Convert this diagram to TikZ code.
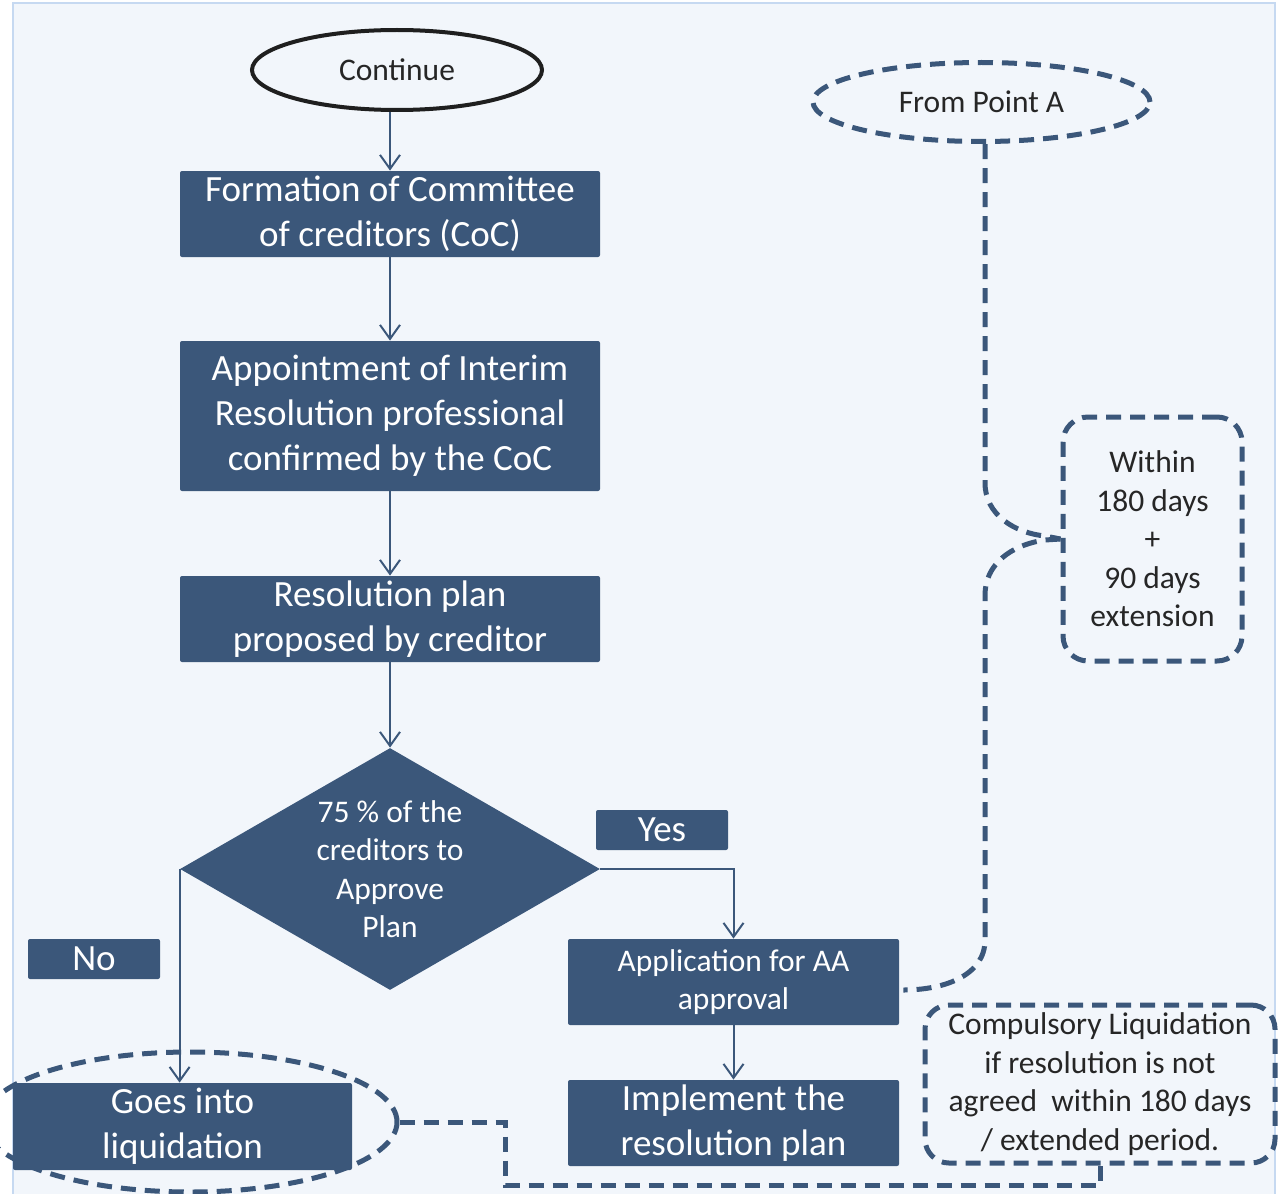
\documentclass[tikz,border=0pt]{standalone}
\usepackage{fontspec}
\setmainfont{Carlito}
\usetikzlibrary{shapes.geometric,arrows.meta,calc}
\definecolor{boxblue}{HTML}{3B577A}
\definecolor{paper}{HTML}{F2F6FB}
\definecolor{frameblue}{HTML}{C6D9F1}
\definecolor{inkgrey}{HTML}{262626}
\begin{document}
\begin{tikzpicture}[x=0.5pt,y=-0.5pt,
    big/.style={font=\fontsize{18.5}{22.5}\selectfont},
    small/.style={font=\fontsize{15.75}{19.25}\selectfont},
    box/.style={rectangle,fill=boxblue,text=white,align=center,inner sep=0pt,rounded corners=1pt},
    tag/.style={box,big,minimum width=66pt,minimum height=20pt},
    dashline/.style={draw=boxblue,line width=2.5pt,dash pattern=on 7.5pt off 4.5pt},
    flow/.style={draw=boxblue,line width=1pt,-{Straight Barb[length=7pt,width=10pt]}}]
  \useasboundingbox (0,0) rectangle (1278,1193);
  \fill[white] (0,0) rectangle (1278,1193);
  \draw[frameblue,fill=paper,line width=1pt] (13,3) rectangle (1275,1230);
  % main column
  \node[ellipse,draw=black!88,line width=2pt,small,text=inkgrey,minimum width=145pt,minimum height=40pt] (cont) at (397,70) {Continue};
  \node[box,big,minimum width=210pt,minimum height=43pt] (coc) at (390,214) {Formation of Committee\\of creditors (CoC)};
  \node[box,big,minimum width=210pt,minimum height=75pt] (irp) at (390,416) {Appointment of Interim\\Resolution professional\\confirmed by the CoC};
  \node[box,big,minimum width=210pt,minimum height=43pt] (plan) at (390,619) {Resolution plan\\proposed by creditor};
  \node[diamond,fill=boxblue,text=white,align=center,small,inner sep=0pt,aspect=1.74,minimum width=210pt,minimum height=121pt] (vote) at (390,869) {75 \% of the\\creditors to\\Approve\\Plan};
  \node[tag] (yes) at (662,830) {Yes};
  \node[tag] (no) at (94,959) {No};
  \node[box,small,minimum width=165.5pt,minimum height=43pt] (aa) at (733.5,982) {Application for AA\\approval};
  \node[box,big,minimum width=165.5pt,minimum height=43pt] (impl) at (733.5,1123) {Implement the\\resolution plan};
  \node[box,big,minimum width=169.5pt,minimum height=43.5pt] (liq) at (182.5,1126.5) {Goes into\\liquidation};
  \node[ellipse,dashline,minimum width=207pt,minimum height=70pt] (ring) at (190,1122) {};
  % right side notes
  \node[ellipse,dashline,small,text=inkgrey,minimum width=168.5pt,minimum height=39.5pt] (pta) at (981.5,102) {From Point A};
  \node[rectangle,rounded corners=12.5pt,dashline,small,text=inkgrey,align=center,minimum width=89.5pt,minimum height=122pt] (days) at (1152.5,539) {Within\\180 days\\+\\90 days\\extension};
  \node[rectangle,rounded corners=12pt,dashline,small,text=inkgrey,align=center,minimum width=175pt,minimum height=79pt] (cl) at (1100,1084) {Compulsory Liquidation\\if resolution is not\\agreed\ \ within 180 days\\/ extended period.};
  % arrows
  \draw[flow] (coc.north |- cont.south) -- (coc.north);
  \draw[flow] (coc) -- (irp);
  \draw[flow] (irp) -- (plan);
  \draw[flow] (plan) -- (vote);
  \draw[flow] (vote.west) -- (vote.west |- liq.north);
  \draw[flow] (vote.east) -| (aa.north);
  \draw[flow] (aa) -- (impl);
  % dashed links
  \coordinate (turn) at (505,1185);
  \coordinate (spine) at (985,483);
  \draw[dashline] (ring.east) -| (turn) -| (cl.south);
  \draw[dashline] (pta.south -| spine) -- (spine) .. controls (985,515) and (1015,533) .. (1045,536) -- (days.west);
  \draw[dashline] (days.west) -- (1045,540) .. controls (1010,545) and (985,565) .. (985,595) -- (985,940) .. controls (985,975) and (945,990) .. ($(aa.east)+(4,8)$);
\end{tikzpicture}
\end{document}
